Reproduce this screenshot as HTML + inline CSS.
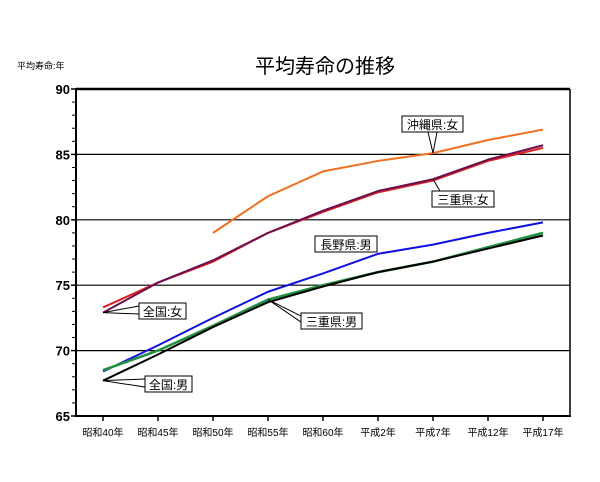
<!DOCTYPE html>
<html><head><meta charset="utf-8"><style>
body{margin:0;background:#fff;}
svg text{font-family:"Liberation Sans","Noto Sans CJK JP",sans-serif;}
</style></head><body>
<svg id="chart" width="600" height="477" viewBox="0 0 600 477" xmlns="http://www.w3.org/2000/svg">
<rect width="600" height="477" fill="#fff"/>
<text x="325" y="73" font-size="20" text-anchor="middle" fill="#000">平均寿命の推移</text>
<text x="17" y="69" font-size="9" fill="#000">平均寿命:年</text>
<g id="grid"></g><g id="axes"></g><g id="series"></g><g id="labels"></g>
</svg>
<script>
const categories=["昭和40年","昭和45年","昭和50年","昭和55年","昭和60年","平成2年","平成7年","平成12年","平成17年"];
const yTicks=[65,70,75,80,85,90];
const zenkokuF=[72.9,75.2,76.9,79.0,80.7,82.2,83.1,84.6,85.7];
const mieF=[73.3,75.2,76.8,79.0,80.6,82.1,83.0,84.5,85.5];
const okinawaF=[null,null,79.0,81.8,83.7,84.5,85.1,86.1,86.9];
const naganoM=[68.4,70.4,72.5,74.5,75.9,77.4,78.1,79.0,79.8];
const mieM=[68.5,70.0,71.9,73.9,75.0,76.0,76.8,77.9,79.0];
const zenkokuM=[67.7,69.7,71.8,73.7,74.9,76.0,76.8,77.8,78.8];
const NS="http://www.w3.org/2000/svg";
const L=76,R=570,T=89,B=416;
const x=i=>103+i*55;
const y=v=>B-(v-65)*(B-T)/25;
function mk(tag,attrs,parent){const e=document.createElementNS(NS,tag);for(const k in attrs)e.setAttribute(k,attrs[k]);parent.appendChild(e);return e;}
const grid=document.getElementById('grid'),axes=document.getElementById('axes'),ser=document.getElementById('series'),lab=document.getElementById('labels');
yTicks.forEach(v=>{
  if(v>65&&v<90){const g=mk('line',{x1:L,x2:R,y1:y(v),y2:y(v),stroke:'#000','stroke-width':1.2},grid);
  
  }
  const t=mk('text',{x:70,y:y(v)+5,'font-size':13,'font-weight':'bold','text-anchor':'end'},axes);
  t.textContent=v;
  
  
  mk('line',{x1:71,x2:L,y1:y(v),y2:y(v),stroke:'#000','stroke-width':1.5},axes);
});
for(let v=66;v<90;v++){if(v%5)mk('line',{x1:72,x2:L,y1:y(v),y2:y(v),stroke:'#000','stroke-width':1},axes);}
const topLine=mk('line',{x1:L,x2:R,y1:T,y2:T,stroke:'#000','stroke-width':2.5},axes);


mk('line',{x1:R,x2:R,y1:T,y2:B,stroke:'#000','stroke-width':1.5},axes);
const ya=mk('line',{x1:L,x2:L,y1:T-1,y2:B+1,stroke:'#000','stroke-width':2},axes);


const xa=mk('line',{x1:L-1,x2:R+1,y1:B,y2:B,stroke:'#000','stroke-width':2},axes);


categories.forEach((c,i)=>{
  mk('line',{x1:x(i),x2:x(i),y1:B,y2:B+5,stroke:'#000','stroke-width':1.5},axes);
  const t=mk('text',{x:x(i),y:436,'font-size':10,'text-anchor':'middle'},axes);
  t.textContent=c;
  
  
});
function line(data,color,name,w){
  const pts=data.map((v,i)=>v==null?null:x(i)+','+y(v)).filter(p=>p);
  const p=mk('polyline',{points:pts.join(' '),fill:'none',stroke:color,'stroke-width':w||2,'stroke-linejoin':'round'},ser);
  
  
}
line(okinawaF,'#f07020','line-okinawa-female');
line(mieF,'#e02020','line-mie-female');
line(zenkokuF,'#6a1050','line-national-female');
line(naganoM,'#1010e0','line-nagano-male');
line(mieM,'#209040','line-mie-male',2.5);
line(zenkokuM,'#000000','line-national-male');
function callout(text,bx,by,bw,ptrs,name){
  ptrs.forEach(p=>mk('polyline',{points:p.join(' '),fill:'#fff',stroke:'#000','stroke-width':1},lab));
  mk('rect',{x:bx,y:by,width:bw,height:16,fill:'#fff',stroke:'#000','stroke-width':1},lab);
  const t=mk('text',{x:bx+bw/2,y:by+13,'font-size':12,'text-anchor':'middle'},lab);
  t.textContent=text;
  
  
}
callout('沖縄県:女',402,116,61,[[428,132,x(6),y(85.1),437,132]],'label-okinawa-female');
callout('三重県:女',432,191,62,[[x(6),y(83.1),440,191,446,191]],'label-mie-female');
callout('長野県:男',315,236,62,[],'label-nagano-male');
callout('三重県:男',301,313,61,[[x(3),y(73.9),301,316,301,322,x(3),y(73.9)]],'label-mie-male');
callout('全国:女',139,303,47,[[x(0),y(72.9),139,306,139,314,x(0),y(72.9)]],'label-national-female');
callout('全国:男',145,376,47,[[x(0),y(67.7),145,379,145,387,x(0),y(67.7)]],'label-national-male');
</script>
</body></html>
